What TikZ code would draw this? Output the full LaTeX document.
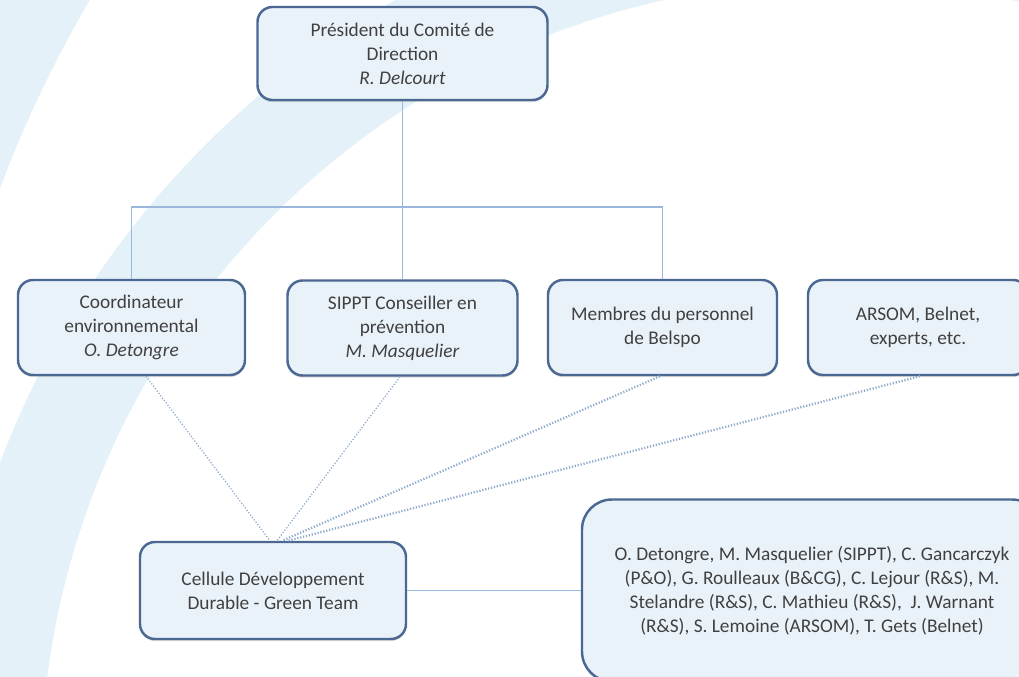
\documentclass[tikz,border=0pt]{standalone}
\usepackage{fontspec}
\setmainfont{Carlito}
\usetikzlibrary{shadows}

\definecolor{bandblue}{RGB}{228,241,248}
\definecolor{boxfill}{RGB}{234,242,249}
\definecolor{boxline}{RGB}{74,104,146}
\definecolor{linkblue}{RGB}{155,184,220}
\definecolor{txtgray}{RGB}{64,64,64}

\begin{document}
\begin{tikzpicture}[
    unit/.style={rectangle, draw=boxline, line width=1.4pt, rounded corners=0.3cm, fill=boxfill, minimum width=4.6cm, minimum height=1.9cm, align=center, text=txtgray, font=\fontsize{11}{13.6}\selectfont, drop shadow={shadow xshift=0pt, shadow yshift=-1.2pt, opacity=0.3}},
    team/.style={unit, rounded corners=0.6cm, minimum width=9.2cm, minimum height=3.64cm},
    link/.style={draw=linkblue, line width=0.9pt},
    dotlink/.style={draw=linkblue!92!black, line width=0.7pt, densely dotted},
    dotlinkb/.style={dotlink, line width=1.3pt}]

    % Page frame and background bands
    \useasboundingbox (0,0) rectangle (20.38,13.54);
    \clip (0,0) rectangle (20.38,13.54);
    \fill[bandblue, even odd rule] (16.76,-2.02) circle (17.9) (16.76,-2.02) circle (15.94);
    \fill[bandblue, even odd rule] (23,1.14) circle (30) (23,1.14) circle (24.56);

    % Top: direction
    \node[unit, minimum width=5.8cm, minimum height=1.86cm] (pres) at (8.05,12.47) {Président du Comité de\\Direction\\\textit{R. Delcourt}};

    % Row 2: members of the cell
    \node[unit, minimum width=4.54cm] (coord) at (2.63,6.99) {Coordinateur\\environnemental\\\textit{O. Detongre}};
    \node[unit] (sippt) at (8.05,6.98) {SIPPT Conseiller en\\prévention\\\textit{M. Masquelier}};
    \node[unit, minimum width=4.58cm] (membres) at (13.25,6.99) {Membres du personnel\\de Belspo};
    \node[unit, minimum width=4.4cm] (arsom) at (18.36,6.99) {ARSOM, Belnet,\\experts, etc.};

    % Bottom: green team
    \node[unit, minimum width=5.32cm, minimum height=1.94cm] (cellule) at (5.46,1.73) {Cellule Développement\\Durable - Green Team};
    \node[team] (equipe) at (16.24,1.73) {O. Detongre, M. Masquelier (SIPPT), C. Gancarczyk\\(P\&O), G. Roulleaux (B\&CG), C. Lejour (R\&S), M.\\Stelandre (R\&S), C. Mathieu (R\&S), \ J. Warnant\\(R\&S), S. Lemoine (ARSOM), T. Gets (Belnet)};

    % Hierarchy
    \coordinate (busl) at (2.63,9.4);
    \coordinate (busr) at (13.25,9.4);
    \draw[link] (pres.south) -- (sippt.north);
    \draw[link] (coord.north) -- (busl) -- (busr) -- (membres.north);
    \draw[link] (cellule.east) -- (equipe.west);

    % Dotted links to the green team
    \draw[dotlink] ([xshift=0.29cm]coord.south) -- ([xshift=-0.06cm]cellule.north);
    \draw[dotlink] ([xshift=-0.05cm]sippt.south) -- ([xshift=0.08cm]cellule.north);
    \draw[dotlinkb] ([xshift=-0.05cm]membres.south) -- ([xshift=0.18cm]cellule.north);
    \draw[dotlinkb] ([xshift=0.04cm]arsom.south) -- ([xshift=0.3cm]cellule.north);
\end{tikzpicture}
\end{document}
